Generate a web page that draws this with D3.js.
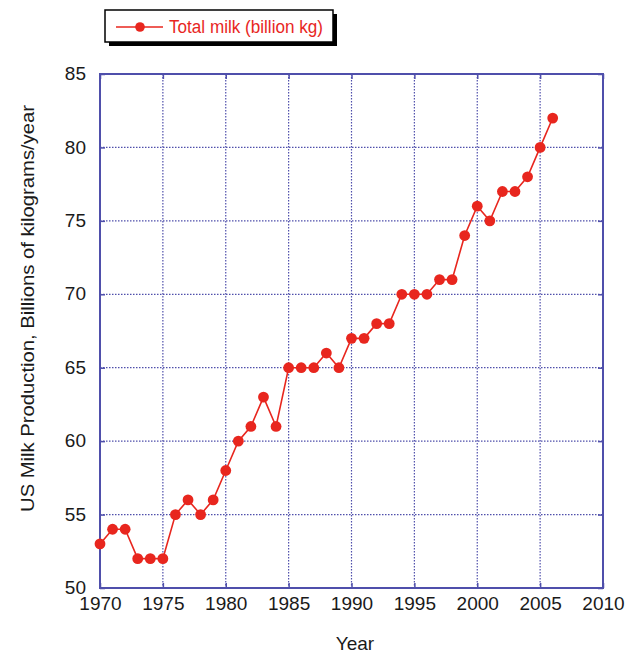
<!DOCTYPE html>
<html><head><meta charset="utf-8">
<script src="https://cdn.jsdelivr.net/npm/d3@7"></script>
<style>body{margin:0;background:#fff;} svg{display:block;font-family:"Liberation Sans",Arial,Helvetica,sans-serif;}</style>
</head><body>
<svg id="c" width="631" height="654"></svg>
<script>
const years = [1970,1971,1972,1973,1974,1975,1976,1977,1978,1979,1980,1981,1982,1983,1984,1985,1986,1987,1988,1989,1990,1991,1992,1993,1994,1995,1996,1997,1998,1999,2000,2001,2002,2003,2004,2005,2006];
const milk = [53,54,54,52,52,52,55,56,55,56,58,60,61,63,61,65,65,65,66,65,67,67,68,68,70,70,70,71,71,74,76,75,77,77,78,80,82];
const xTicks = [1970,1975,1980,1985,1990,1995,2000,2005,2010];
const yTicks = [50,55,60,65,70,75,80,85];
const seriesName = "Total milk (billion kg)";
const xTitle = "Year";
const yTitle = "US Milk Production, Billions of kilograms/year";

const svg = d3.select("#c");
const L=100, R=603, T=74, B=588;
const x = d3.scaleLinear().domain([1970,2010]).range([L,R]);
const y = d3.scaleLinear().domain([50,85]).range([B,T]);
const blue = "#4f4fab", red = "#e8261e", ink = "#1a1a1a";

// grid
const g = svg.append("g");
g.selectAll(".vg").data(xTicks.slice(1,-1)).join("line")
  .attr("x1",d=>x(d)).attr("x2",d=>x(d)).attr("y1",T).attr("y2",B)
  .attr("stroke",blue).attr("stroke-width",1.2).attr("stroke-dasharray","1.5,1.5");
g.selectAll(".hg").data(yTicks.slice(1,-1)).join("line")
  .attr("y1",d=>y(d)).attr("y2",d=>y(d)).attr("x1",L).attr("x2",R)
  .attr("stroke",blue).attr("stroke-width",1.2).attr("stroke-dasharray","1.5,1.5");

// axes with inward ticks
const fs = "19px";
const ax = svg.append("g").attr("transform",`translate(0,${B})`)
  .call(d3.axisBottom(x).tickValues(xTicks).tickFormat(d3.format("d")).tickSize(-5).tickPadding(9));
const ay = svg.append("g").attr("transform",`translate(${L},0)`)
  .call(d3.axisLeft(y).tickValues(yTicks).tickSize(-5).tickPadding(14));
const at = svg.append("g").attr("transform",`translate(0,${T})`)
  .call(d3.axisTop(x).tickValues(xTicks).tickSize(-5).tickFormat(""));
const ar = svg.append("g").attr("transform",`translate(${R},0)`)
  .call(d3.axisRight(y).tickValues(yTicks).tickSize(-5).tickFormat(""));
[ax,ay,at,ar].forEach(a=>{
  a.select(".domain").remove();
  a.selectAll(".tick line").attr("stroke",blue).attr("stroke-width",1.5);
  a.selectAll(".tick text").attr("fill",ink).style("font-size",fs).style("font-family","Liberation Sans, Arial, sans-serif");
});
ax.selectAll(".tick text").attr("dy","0.71em");
ay.selectAll(".tick text").attr("dy","0.3em");
svg.append("rect").attr("x",L).attr("y",T).attr("width",R-L).attr("height",B-T)
  .attr("fill","none").attr("stroke",blue).attr("stroke-width",2);

// line and points
const data = years.map((yr,i)=>({yr,v:milk[i]}));
svg.append("path").datum(data)
  .attr("d",d3.line().x(d=>x(d.yr)).y(d=>y(d.v)))
  .attr("fill","none").attr("stroke",red).attr("stroke-width",1.6);
svg.selectAll(".pt").data(data).join("circle")
  .attr("cx",d=>x(d.yr)).attr("cy",d=>y(d.v)).attr("r",5.4).attr("fill",red);

// titles
svg.append("text").attr("x",355).attr("y",650).attr("text-anchor","middle")
  .style("font-size","19px").attr("fill",ink).text(xTitle);
svg.append("text").attr("transform","translate(34,308.5) rotate(-90)").attr("text-anchor","middle")
  .style("font-size","18px").attr("fill",ink)
  .attr("textLength",407).attr("lengthAdjust","spacingAndGlyphs").text(yTitle);

// legend
const lg = svg.append("g");
lg.append("rect").attr("x",109).attr("y",14).attr("width",228).attr("height",32).attr("fill","#000");
lg.append("rect").attr("x",105).attr("y",10).attr("width",228).attr("height",32).attr("fill","#fff").attr("stroke","#000").attr("stroke-width",1.5);
lg.append("line").attr("x1",116).attr("x2",163).attr("y1",27).attr("y2",27).attr("stroke",red).attr("stroke-width",1.6);
lg.append("circle").attr("cx",140).attr("cy",27).attr("r",4.8).attr("fill",red);
lg.append("text").attr("x",169).attr("y",33).style("font-size","18px").attr("fill",red)
  .attr("textLength",154).attr("lengthAdjust","spacingAndGlyphs").text(seriesName);
</script>
</body></html>
